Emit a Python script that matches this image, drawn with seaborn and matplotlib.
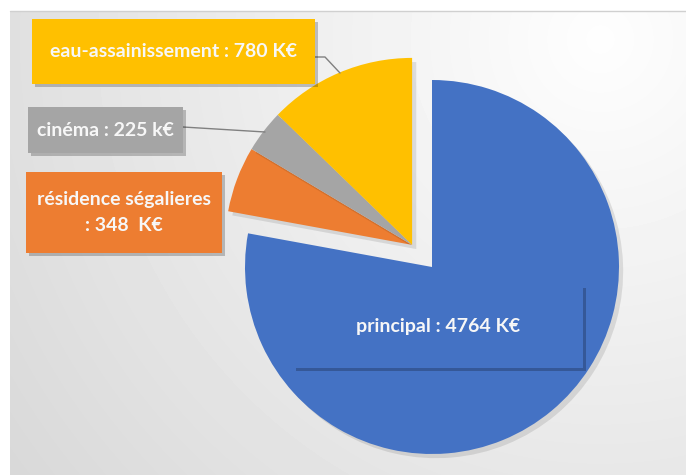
import numpy as np
import matplotlib
matplotlib.use('Agg')
import matplotlib.pyplot as plt
import matplotlib.patheffects as pe
from matplotlib.patches import Rectangle
import seaborn as sns

# données du budget (K€)
categories = ['principal', 'résidence ségalieres', 'cinéma', 'eau-assainissement']
montants = [4764, 348, 225, 780]
etiquettes = ['principal : 4764 K€', 'résidence ségalieres\n: 348  K€',
              'cinéma : 225 k€', 'eau-assainissement : 780 K€']
couleurs = ['#4472C4', '#ED7D31', '#A5A5A5', '#FFC000']

sns.set_style('white')
plt.rcParams['font.family'] = ['Lato', 'DejaVu Sans']

W, H = 686, 475
fig = plt.figure(figsize=(W / 100, H / 100), dpi=100)
fig.patch.set_facecolor('white')
ax = fig.add_axes([0, 0, 1, 1])

# fond dégradé
xx, yy = np.meshgrid(np.arange(10, W), np.arange(0, H - 11))
d = np.hypot(xx - 600, yy - (H - 40))
fond = np.clip(0.995 - d * 0.0002, 0.8, 1)
ax.imshow(fond, cmap='gray', vmin=0, vmax=1, extent=(10, W, 0, H - 11),
          origin='lower', zorder=0, interpolation='bilinear')
ax.plot([10, W], [H - 11, H - 11], color='#d0d0d0', lw=1, zorder=1)

# camembert
cx, cy, r = 432, H - 267, 187
wedges, _ = ax.pie(montants, colors=couleurs, startangle=90, counterclock=False,
                   center=(cx, cy), radius=r, wedgeprops=dict(linewidth=0))
ang = np.deg2rad(132)
dx, dy = 0.159 * r * np.cos(ang), 0.159 * r * np.sin(ang)
for w in wedges:
    w.set_zorder(2)
    w.set_path_effects([pe.SimplePatchShadow(offset=(3, -3), shadow_rgbFace='k', alpha=0.1),
                        pe.Normal()])
for w in wedges[1:]:
    w.set_center((cx + dx, cy + dy))

# étiquettes
boites = {
    'principal': (293, 285, 583, 368),
    'résidence ségalieres': (26, 172, 222, 253),
    'cinéma': (28, 107, 183, 153),
    'eau-assainissement': (32, 19, 315, 84),
}
for cat, lab, col in zip(categories, etiquettes, couleurs):
    x0, y0, x1, y1 = boites[cat]
    rect = Rectangle((x0, H - y1), x1 - x0, y1 - y0, facecolor=col, edgecolor='none', zorder=4)
    rect.set_path_effects([pe.SimplePatchShadow(offset=(2.5, -2.5), shadow_rgbFace='k', alpha=0.22),
                           pe.Normal()])
    ax.add_patch(rect)
    ax.text((x0 + x1) / 2, H - (y0 + y1) / 2, lab, ha='center', va='center',
            color='#f7f7f7', fontsize=14, fontweight='bold', linespacing=1.65, zorder=5)

# traits de rappel
ax.plot([315, 325, 340], [H - 57, H - 57, H - 73], color='#808080', lw=1, zorder=3)
ax.plot([183, 265], [H - 127, H - 132], color='#808080', lw=1, zorder=3)

ax.set_xlim(0, W)
ax.set_ylim(0, H)
ax.set_aspect('auto')
ax.axis('off')

fig.savefig('out.png', dpi=100)
